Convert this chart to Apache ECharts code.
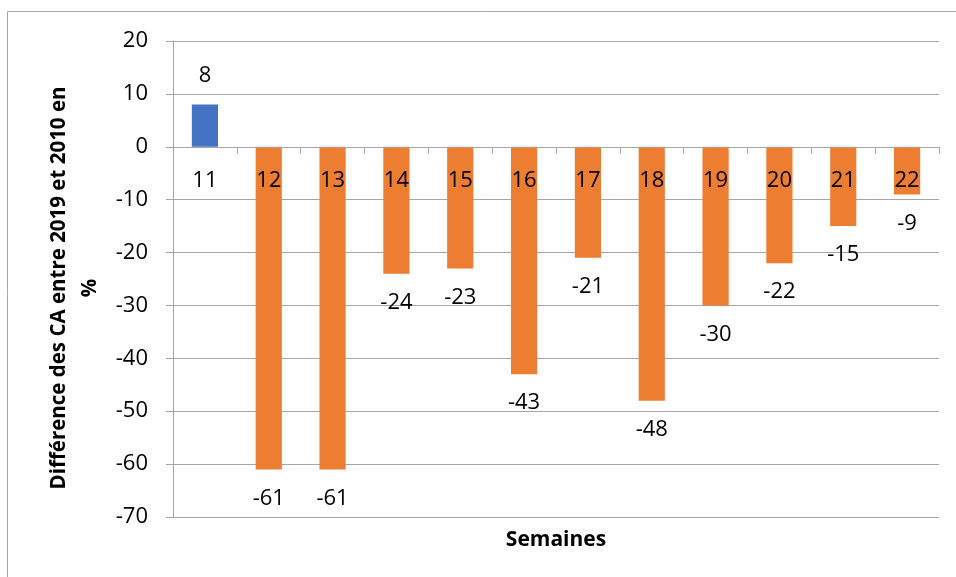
<!DOCTYPE html>
<html>
<head>
<meta charset="utf-8">
<script src="https://cdn.jsdelivr.net/npm/echarts@6/dist/echarts.min.js"></script>
<style>
  html, body { margin: 0; padding: 0; background: #fff; }
  #chart { width: 956px; height: 577px; }
</style>
</head>
<body>
<div id="chart"></div>
<script>
// Weekly change in turnover (%), 2019 vs 2010
const weeks = ['11', '12', '13', '14', '15', '16', '17', '18', '19', '20', '21', '22'];
const diffPct = [8, -61, -61, -24, -23, -43, -21, -48, -30, -22, -15, -9];
const yTicks = { min: -70, max: 20, step: 10 };

const FONT = 'Open Sans';
const POS_COLOR = '#4472C4';
const NEG_COLOR = '#ED7D31';
const AXIS_GRAY = '#a6a6a6';

const GRID = { left: 173, right: 17, top: 41, bottom: 60 };
const CHART_H = 577;
// Place the category axis on the zero line by shifting it up from the grid bottom
const plotH = CHART_H - GRID.top - GRID.bottom;
const zeroOffset = -plotH * (0 - yTicks.min) / (yTicks.max - yTicks.min);

const chart = echarts.init(document.getElementById('chart'), null, { renderer: 'canvas' });

const barData = diffPct.map(v => ({
  value: v,
  itemStyle: { color: v >= 0 ? POS_COLOR : NEG_COLOR },
  label: { position: v >= 0 ? 'top' : 'bottom' }
}));

chart.setOption({
  animation: false,
  backgroundColor: '#ffffff',
  grid: GRID,
  xAxis: {
    type: 'category',
    data: weeks,
    position: 'bottom',
    offset: zeroOffset,
    z: 10,
    axisLine: { onZero: false, lineStyle: { color: AXIS_GRAY, width: 1 } },
    axisTick: { show: true, length: 7, alignWithLabel: false, lineStyle: { color: AXIS_GRAY } },
    axisLabel: { interval: 0, color: '#000', fontFamily: FONT, fontSize: 22, margin: 23 },
    splitLine: { show: false }
  },
  yAxis: {
    type: 'value',
    min: yTicks.min,
    max: yTicks.max,
    interval: yTicks.step,
    axisLine: { show: true, lineStyle: { color: AXIS_GRAY, width: 1 } },
    axisTick: { show: true, length: 7, inside: false, lineStyle: { color: AXIS_GRAY } },
    axisLabel: { color: '#000', fontFamily: FONT, fontSize: 22, margin: 25 },
    splitLine: { show: true, lineStyle: { color: AXIS_GRAY, width: 1 } }
  },
  series: [{
    type: 'bar',
    data: barData,
    barWidth: '41%',
    label: {
      show: true,
      color: '#000',
      fontFamily: FONT,
      fontSize: 22,
      distance: 18
    }
  }],
  graphic: [
    {
      type: 'rect',
      shape: { x: 7.5, y: 11.5, width: 960, height: 580 },
      style: { fill: 'none', stroke: '#a6a6a6', lineWidth: 1 },
      silent: true
    },
    {
      type: 'text',
      x: 75,
      y: 288,
      rotation: Math.PI / 2,
      style: {
        text: 'Différence des CA entre 2019 et 2010 en\n%',
        font: 'bold 20.5px "' + FONT + '"',
        fill: '#000',
        align: 'center',
        verticalAlign: 'middle',
        lineHeight: 31
      }
    },
    {
      type: 'text',
      x: 556,
      y: 540,
      style: {
        text: 'Semaines',
        font: 'bold 21px "' + FONT + '"',
        fill: '#000',
        align: 'center',
        verticalAlign: 'middle'
      }
    }
  ]
});
</script>
</body>
</html>
